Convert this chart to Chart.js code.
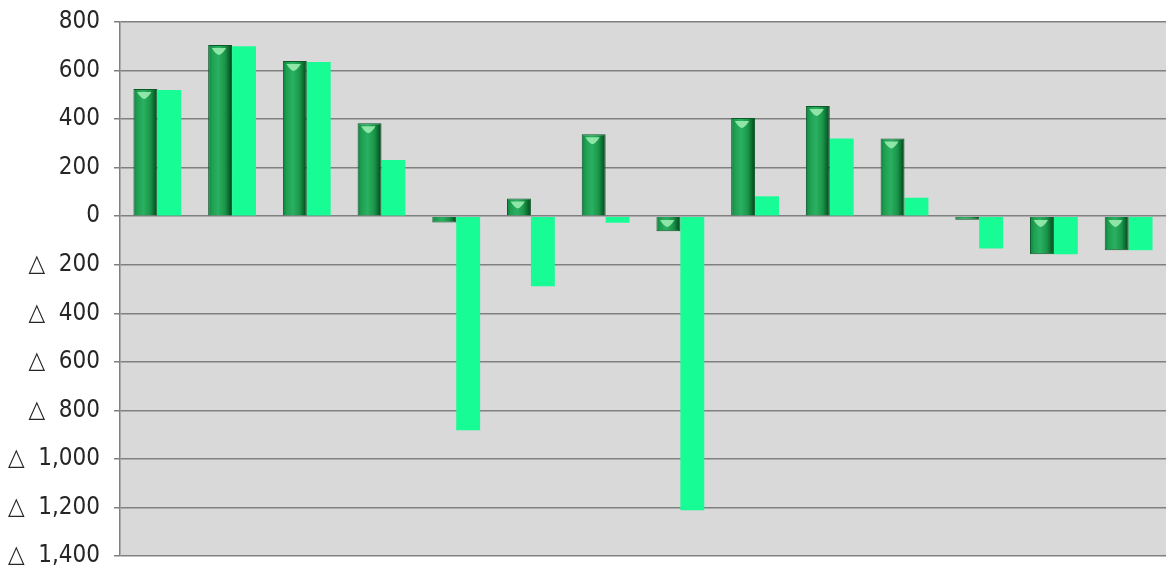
<!DOCTYPE html>
<html>
<head>
<meta charset="utf-8">
<script src="https://cdn.jsdelivr.net/npm/chart.js@4"></script>
<style>
  html, body { margin: 0; padding: 0; background: #fff; }
  #wrap { width: 1166px; height: 567px; }
</style>
</head>
<body>
<div id="wrap"><canvas id="c"></canvas></div>
<script>
const categories = ['1', '2', '3', '4', '5', '6', '7', '8', '9', '10', '11', '12', '13', '14'];
const seriesA = [524, 705, 639, 383, -26, 73, 338, -62, 404, 454, 320, -15, -157, -140];
const seriesB = [520, 700, 635, 231, -882, -289, -27, -1212, 82, 320, 76, -133, -157, -140];
const yMin = -1400, yMax = 800, yStep = 200;

// negative numbers shown with a triangle, as in the source
function tickLabel(v) {
  if (v < 0) return '\u25B3  ' + Math.abs(v).toLocaleString('en-US');
  return v.toLocaleString('en-US');
}

// grey plot area
const plotBg = {
  id: 'plotBg',
  beforeDraw(chart) {
    const a = chart.chartArea;
    const ctx = chart.ctx;
    ctx.save();
    ctx.fillStyle = '#d9d9d9';
    ctx.fillRect(a.left, a.top, a.right - a.left, a.bottom - a.top);
    ctx.restore();
  }
};

// little light cap on the top of each dark bar (3D look)
const barShine = {
  id: 'barShine',
  afterDatasetsDraw(chart) {
    const ctx = chart.ctx;
    chart.getDatasetMeta(0).data.forEach(el => {
      const top = Math.min(el.y, el.base);
      const h = Math.abs(el.base - el.y);
      if (h < 12) return;
      const cx = el.x - el.width * 0.05;
      const w = el.width * 0.6;
      ctx.save();
      ctx.fillStyle = 'rgba(160,240,180,0.85)';
      ctx.beginPath();
      ctx.moveTo(cx - w / 2, top + 3);
      ctx.lineTo(cx + w / 2, top + 3);
      ctx.quadraticCurveTo(cx + w / 4, top + 9, cx, top + 10);
      ctx.quadraticCurveTo(cx - w / 4, top + 9, cx - w / 2, top + 3);
      ctx.fill();
      ctx.restore();
    });
  }
};

function darkFill(context) {
  const chart = context.chart;
  const xs = chart.scales.x;
  if (!chart.chartArea || !xs) return '#1a9a4b';
  const catW = xs.width / categories.length;
  const barW = catW * 0.64 / 2;
  const c = xs.getPixelForValue(context.dataIndex);
  const x0 = c - barW, x1 = c;
  const g = chart.ctx.createLinearGradient(x0, 0, x1, 0);
  g.addColorStop(0, '#0f7e3c');
  g.addColorStop(0.15, '#1d9f50');
  g.addColorStop(0.42, '#2bb061');
  g.addColorStop(0.7, '#1a9649');
  g.addColorStop(0.86, '#0c6c31');
  g.addColorStop(1, '#053d19');
  return g;
}

new Chart(document.getElementById('c'), {
  type: 'bar',
  data: {
    labels: categories,
    datasets: [
      {
        label: 'A',
        data: seriesA,
        backgroundColor: darkFill,
        borderColor: '#0a5a28',
        borderWidth: 1,
        categoryPercentage: 0.64,
        barPercentage: 1
      },
      {
        label: 'B',
        data: seriesB,
        backgroundColor: '#18fc96',
        borderWidth: 0,
        categoryPercentage: 0.64,
        barPercentage: 1
      }
    ]
  },
  options: {
    responsive: true,
    maintainAspectRatio: false,
    animation: false,
    layout: { padding: { top: 22, right: 0, bottom: 11, left: 0 } },
    plugins: { legend: { display: false }, tooltip: { enabled: false } },
    scales: {
      x: { display: false },
      y: {
        min: yMin,
        max: yMax,
        afterFit(s) { s.width = 120; },
        ticks: {
          stepSize: yStep,
          padding: 5,
          color: '#262626',
          // small lineHeight keeps the labels from pushing the plot area in
          font: { family: "'Liberation Sans Narrow', 'DejaVu Sans Condensed', 'DejaVu Sans'", size: 24, lineHeight: 0.5 },
          callback: v => tickLabel(v)
        },
        grid: {
          color: '#808080',
          lineWidth: 1.5,
          tickLength: 15,
          // only the last 6px of the tick is visible
          tickBorderDash: [0, 9, 6, 0]
        },
        border: { color: '#808080', width: 1.5 }
      }
    }
  },
  plugins: [plotBg, barShine]
});
</script>
</body>
</html>
